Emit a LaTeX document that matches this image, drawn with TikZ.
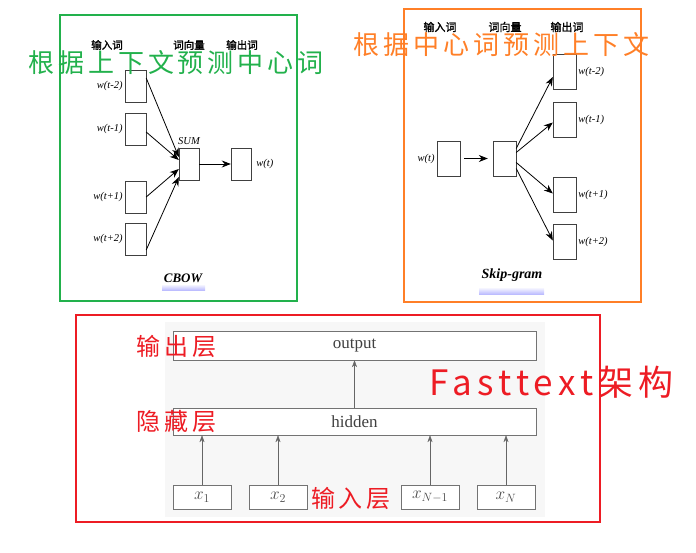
\documentclass[tikz,border=0pt]{standalone}
\usepackage{fontspec}
\usepackage{tikz}
\usetikzlibrary{arrows.meta}
\newfontfamily\hand[LetterSpace=15]{Noto Sans CJK SC}
\newfontfamily\zh[FakeBold=1.5]{Noto Sans CJK SC}
\newfontfamily\serif{Liberation Serif}
\definecolor{paintgreen}{RGB}{34,177,76}
\definecolor{paintorange}{RGB}{255,127,39}
\definecolor{paintred}{RGB}{237,28,36}

\begin{document}
\begin{tikzpicture}[x=1pt, y=-1pt, >={Stealth[length=9pt, width=7pt]},
    wbox/.style={draw=black!75, minimum width=21pt, minimum height=32pt, inner sep=0pt},
    wlabel/.style={font=\serif\itshape\fontsize{10.5}{12}\selectfont, inner sep=2pt},
    head/.style={font=\zh\fontsize{10.5}{12}\selectfont, inner sep=0pt},
    model/.style={font=\serif\bfseries\itshape\fontsize{13}{15}\selectfont, inner sep=0pt},
    layer/.style={draw=black!55, fill=white, minimum width=363pt, inner sep=0pt,
                  font=\serif\fontsize{17}{19}\selectfont, text=black!75},
    xbox/.style={draw=black!55, fill=white, minimum width=58pt, minimum height=24pt,
                 inner sep=0pt, font=\fontsize{17}{19}\selectfont, text=black!70},
    up/.style={-{Stealth[length=7pt, width=5pt]}, black!60},
    note/.style={font=\hand\fontsize{24}{26}\selectfont, inner sep=0pt}]
\useasboundingbox (0,0) rectangle (696,553);

\draw[paintgreen, line width=2pt] (60,15) rectangle (297,301);
\draw[paintorange, line width=2pt] (404,9) rectangle (641,302);
\draw[paintred, line width=1.5pt] (76,315) rectangle (600,522);

% CBOW
\node[head] (cin) at (107,45) {输入词};
\node[head] (cvec) at (189,45) {词向量};
\node[head] (cout) at (242,45) {输出词};
\foreach \n/\y/\l in {a/86/t-2, b/129/t-1, c/197/t+1, d/239/t+2}{
    \node[wbox] (in\n) at (135.5,\y) {};
    \node[wlabel, left] (lab\n) at (in\n.west) {w(\l)};
}
\node[wbox, minimum width=20pt] (sum) at (189,164) {};
\node[wlabel, above=1pt] (sumlab) at (sum.north) {SUM};
\node[wbox, minimum width=20pt] (wt) at (241,164) {};
\node[wlabel, right=3pt] (wtlab) at (wt.east) {w(t)};
\foreach \n/\s/\e in {a/8/7, b/-3/4, c/0/-5, d/-11/-13}{
    \draw[->, thick] ([yshift=\s pt]in\n.east) -- ([yshift=\e pt]sum.west);
}
\draw[->, thick] (sum) -- (wt);
\shade[top color=white, bottom color=blue!30] (162,284) rectangle (205,291);
\node[model] (cbow) at (183,278) {CBOW};

% Skip-gram
\node[head, font=\zh\fontsize{11}{12}\selectfont] (sin) at (440,27) {输入词};
\node[head, font=\zh\fontsize{11}{12}\selectfont] (svec) at (505,27) {词向量};
\node[head, font=\zh\fontsize{11}{12}\selectfont] (sout) at (567,27) {输出词};
\node[wbox, minimum width=23pt, minimum height=35pt] (wc) at (448.5,158.5) {};
\node[wlabel, left] (wclab) at (wc.west) {w(t)};
\node[wbox, minimum width=23pt, minimum height=35pt] (hid) at (504.5,158.5) {};
\draw[->, thick, shorten <=4pt, shorten >=5pt] (wc) -- (hid);
\foreach \n/\y/\l/\s/\e in {a/72/t-2/10/-5, b/119.5/t-1/6/-3, c/194.5/t+1/-4/1, d/241.5/t+2/-10/1}{
    \node[wbox, minimum width=23pt, minimum height=35pt] (out\n) at (564.5,\y) {};
    \node[wlabel, right] (olab\n) at (out\n.east) {w(\l)};
    \draw[->, thick] ([yshift=\s pt]hid.east) -- ([yshift=\e pt]out\n.west);
}
\shade[top color=white, bottom color=blue!30] (479,287) rectangle (544,295);
\node[model, font=\serif\bfseries\itshape\fontsize{14}{16}\selectfont] (skip) at (512,275) {Skip-gram};

% fastText
\fill[black!3] (165,322) rectangle (545,517);
\node[layer, minimum height=29pt] (output) at (354.5,345.5) {output};
\node[layer, minimum height=27pt] (hidden) at (354.5,421.5) {hidden};
\foreach \n/\x/\t in {1/202/x_1, 2/278/x_2, 3/430/x_{N-1}, 4/506/x_N}{
    \node[xbox] (x\n) at (\x,497) {$\t$};
    \draw[up] (x\n) -- (x\n |- hidden.south);
}
\draw[up] (hidden) -- (output);

% notes
\node[note, text=paintgreen, font=\hand\fontsize{26}{28}\selectfont] (ctxnote) at (176,63) {根据上下文预测中心词};
\node[note, text=paintorange, font=\hand\fontsize{26}{28}\selectfont] (cennote) at (501.5,45) {根据中心词预测上下文};
\node[note, text=paintred] (outnote) at (176.5,346) {输出层};
\node[note, text=paintred] (hidnote) at (176.5,421) {隐藏层};
\node[note, text=paintred] (innote) at (351,498) {输入层};
\node[note, text=paintred, font=\hand\fontsize{35}{38}\selectfont] (ftnote) at (551.5,382) {Fasttext架构};
\end{tikzpicture}
\end{document}
